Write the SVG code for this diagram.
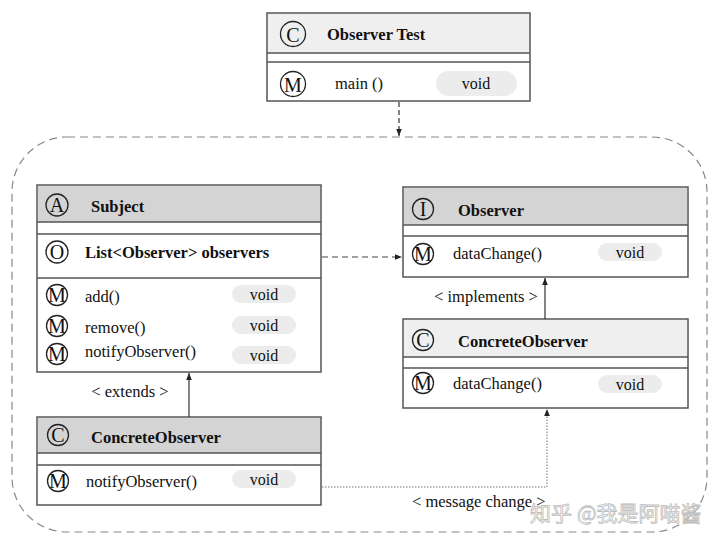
<svg xmlns="http://www.w3.org/2000/svg" width="720" height="541" viewBox="0 0 720 541">
<defs>
<style>
.box{fill:#fff;stroke:#555;stroke-width:1.5}
.hdark{fill:#d4d4d4}
.hlight{fill:#efefef}
.ln{stroke:#555;stroke-width:1.5}
.ic{fill:none;stroke:#222;stroke-width:1.3}
.il{font-family:"Liberation Serif","Times New Roman",serif;font-size:20px;fill:#111;text-anchor:middle}
.t{font-family:"Liberation Serif","Times New Roman",serif;font-size:16.5px;fill:#111}
.b{font-family:"Liberation Serif","Times New Roman",serif;font-size:16.5px;font-weight:bold;fill:#111}
.pill{fill:#ececec}
.v{font-family:"Liberation Serif","Times New Roman",serif;font-size:16px;fill:#111;text-anchor:middle}
.lab{font-family:"Liberation Serif","Times New Roman",serif;font-size:16.5px;fill:#111}
</style>
<marker id="ah" viewBox="0 0 10 10" refX="10" refY="5" markerWidth="7" markerHeight="7" orient="auto-start-reverse" markerUnits="userSpaceOnUse">
<path d="M0,1 L10,5 L0,9 Z" fill="#222"/>
</marker>
</defs>
<rect width="720" height="541" fill="#fff"/>

<g id="container">
<rect x="12" y="137" width="695" height="395" rx="55" ry="55" fill="none" stroke="#888" stroke-width="1.2" stroke-dasharray="8 5"/>
</g>

<g id="observer-test">
<rect class="box" x="267" y="13" width="263" height="88"/>
<rect class="hlight" x="268" y="14" width="261" height="39"/>
<line class="ln" x1="267" y1="53" x2="530" y2="53"/>
<line class="ln" x1="267" y1="62" x2="530" y2="62"/>
<circle class="ic" cx="293" cy="34" r="12.5"/>
<text class="il" x="293" y="41.5" font-size="22">C</text>
<text class="b" x="327" y="40" font-size="16">Observer Test</text>
<circle class="ic" cx="293" cy="84" r="12.5"/>
<text class="il" x="293" y="91.5" font-size="21">M</text>
<text class="t" x="335" y="89">main ()</text>
<rect class="pill" x="436" y="71" width="81" height="25" rx="12.5"/>
<text class="v" x="476" y="89">void</text>
</g>

<g id="subject">
<rect class="box" x="37" y="185" width="284" height="187"/>
<rect class="hdark" x="38" y="186" width="282" height="36"/>
<line class="ln" x1="37" y1="222" x2="321" y2="222"/>
<line class="ln" x1="37" y1="234" x2="321" y2="234"/>
<line class="ln" x1="37" y1="278" x2="321" y2="278"/>
<circle class="ic" cx="57" cy="205" r="11"/>
<text class="il" x="57" y="212">A</text>
<text class="b" x="91" y="212">Subject</text>
<circle class="ic" cx="57" cy="252" r="11"/>
<text class="il" x="57" y="259">O</text>
<text class="b" x="85" y="258">List&lt;Observer&gt; observers</text>
<circle class="ic" cx="57" cy="295" r="10.5"/>
<text class="il" x="57" y="302" font-size="19">M</text>
<text class="t" x="85" y="302">add()</text>
<rect class="pill" x="232" y="285" width="64" height="18" rx="9"/>
<text class="v" x="264" y="299.5">void</text>
<circle class="ic" cx="57" cy="326" r="10.5"/>
<text class="il" x="57" y="333" font-size="19">M</text>
<text class="t" x="85" y="333">remove()</text>
<rect class="pill" x="232" y="316" width="64" height="18" rx="9"/>
<text class="v" x="264" y="330.5">void</text>
<circle class="ic" cx="57" cy="354" r="10.5"/>
<text class="il" x="57" y="361" font-size="19">M</text>
<text class="t" x="85" y="357">notifyObserver()</text>
<rect class="pill" x="232" y="346" width="64" height="18" rx="9"/>
<text class="v" x="264" y="360.5">void</text>
</g>

<g id="observer">
<rect class="box" x="403" y="187" width="285" height="90"/>
<rect class="hdark" x="404" y="188" width="283" height="37"/>
<line class="ln" x1="403" y1="225" x2="688" y2="225"/>
<line class="ln" x1="403" y1="236" x2="688" y2="236"/>
<circle class="ic" cx="423" cy="209" r="10.5"/>
<text class="il" x="423" y="216" font-size="19">I</text>
<text class="b" x="458" y="216">Observer</text>
<circle class="ic" cx="423" cy="254" r="10.5"/>
<text class="il" x="423" y="261" font-size="19">M</text>
<text class="t" x="453" y="259">dataChange()</text>
<rect class="pill" x="598" y="243" width="64" height="18" rx="9"/>
<text class="v" x="630" y="257.5">void</text>
</g>

<g id="concrete-observer-right">
<rect class="box" x="403" y="319" width="285" height="89"/>
<rect class="hlight" x="404" y="320" width="283" height="37"/>
<line class="ln" x1="403" y1="357" x2="688" y2="357"/>
<line class="ln" x1="403" y1="368" x2="688" y2="368"/>
<circle class="ic" cx="423" cy="340" r="10.5"/>
<text class="il" x="423" y="347" font-size="19">C</text>
<text class="b" x="458" y="347">ConcreteObserver</text>
<circle class="ic" cx="423" cy="383" r="10.5"/>
<text class="il" x="423" y="390" font-size="19">M</text>
<text class="t" x="453" y="389">dataChange()</text>
<rect class="pill" x="598" y="375" width="64" height="18" rx="9"/>
<text class="v" x="630" y="389.5">void</text>
</g>

<g id="concrete-observer-left">
<rect class="box" x="37" y="417" width="284" height="88"/>
<rect class="hdark" x="38" y="418" width="282" height="35"/>
<line class="ln" x1="37" y1="453" x2="321" y2="453"/>
<line class="ln" x1="37" y1="465" x2="321" y2="465"/>
<circle class="ic" cx="58" cy="435" r="10.5"/>
<text class="il" x="58" y="442" font-size="19">C</text>
<text class="b" x="91" y="443">ConcreteObserver</text>
<circle class="ic" cx="58" cy="481" r="10.5"/>
<text class="il" x="58" y="488" font-size="19">M</text>
<text class="t" x="86" y="487">notifyObserver()</text>
<rect class="pill" x="232" y="470" width="64" height="18" rx="9"/>
<text class="v" x="264" y="484.5">void</text>
</g>

<g id="connectors">
<line x1="399" y1="102" x2="399" y2="136" stroke="#333" stroke-width="1.2" stroke-dasharray="5 3" marker-end="url(#ah)"/>
<line x1="322" y1="257" x2="402" y2="257" stroke="#444" stroke-width="1.2" stroke-dasharray="6 4" marker-end="url(#ah)"/>
<line x1="545" y1="319" x2="545" y2="278" stroke="#333" stroke-width="1.2" marker-end="url(#ah)"/>
<text class="lab" x="486" y="302" text-anchor="middle">&lt; implements &gt;</text>
<line x1="189" y1="417" x2="189" y2="373" stroke="#333" stroke-width="1.2" marker-end="url(#ah)"/>
<text class="lab" x="130" y="397" text-anchor="middle">&lt; extends &gt;</text>
<polyline points="322,487 547,487 547,409" fill="none" stroke="#777" stroke-width="1" stroke-dasharray="1.5 1.5" marker-end="url(#ah)"/>
<text class="lab" x="412" y="507">&lt; message change &gt;</text>
</g>

<g id="watermark">
<text x="530" y="521" font-family="'Noto Sans CJK SC','Noto Sans',sans-serif" font-size="21" fill="#ffffff" fill-opacity="0.6" stroke="#bdbdbd" stroke-width="0.8">知乎 @我是阿喵酱</text>
</g>
</svg>
